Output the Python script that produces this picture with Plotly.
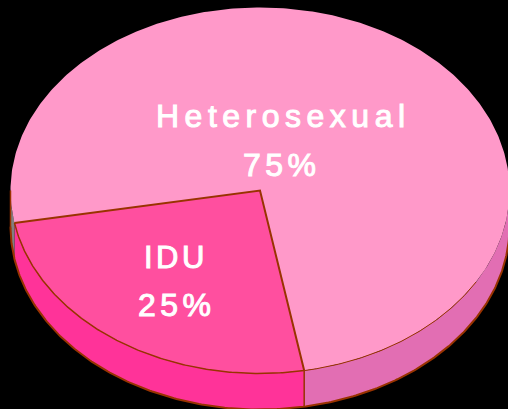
import numpy as np
import plotly.graph_objects as go

slice_names = ["IDU", "Heterosexual"]
slice_values = [25, 75]
slice_labels = ["25%", "75%"]
face_colors = ["#FF4F9F", "#FF99C9"]
side_colors = ["#FF3399", "#E26EB3"]
EDGE = "#993300"

CX, CY, RX, RY, DEPTH = 260, 190.5, 249.5, 183, 36
START_DEG = 169.8  # clockwise from top, where the IDU slice begins


def pts(a0, a1, dz=0, n=160):
    t = np.radians(np.linspace(a0, a1, n))
    return CX + RX * np.sin(t), CY - RY * np.cos(t) + dz


def ring_side(a0, a1):
    x0, y0 = pts(a0, a1)
    x1, y1 = pts(a1, a0, DEPTH)
    return np.r_[x0, x1, x0[0]], np.r_[y0, y1, y0[0]]


def poly(x, y, color):
    return go.Scatter(x=x, y=y, mode="lines", fill="toself", fillcolor=color,
                      line=dict(width=0, color=color), hoverinfo="skip", showlegend=False)


def stroke(x, y, w=1.5):
    return go.Scatter(x=x, y=y, mode="lines", line=dict(width=w, color=EDGE),
                      hoverinfo="skip", showlegend=False)


idu_span = 360 * slice_values[0] / sum(slice_values)
a_idu_end = START_DEG + idu_span
a_het_end = START_DEG + 360

fig = go.Figure()
# side walls (only the front half of the rim is visible)
fig.add_trace(poly(*ring_side(90, START_DEG), side_colors[1]))
fig.add_trace(poly(*ring_side(START_DEG, a_idu_end), side_colors[0]))
fig.add_trace(poly(*ring_side(a_idu_end, 270), "#808080"))

# top faces
hx, hy = pts(a_idu_end, a_het_end, n=400)
fig.add_trace(poly(np.r_[CX, hx, CX], np.r_[CY, hy, CY], face_colors[1]))
ix, iy = pts(START_DEG, a_idu_end, n=200)
fig.add_trace(poly(np.r_[CX, ix, CX], np.r_[CY, iy, CY], face_colors[0]))

# edges
fig.add_trace(stroke(*pts(90, 270, DEPTH, n=300), w=2))           # lower rim
fx, fy = pts(270, 270, n=2)
fig.add_trace(stroke([fx[0], fx[0]], [CY, CY + DEPTH]))           # left silhouette
fig.add_trace(stroke(*pts(120, START_DEG), w=1))                  # front of the large slice
fig.add_trace(stroke(*pts(START_DEG, a_idu_end, n=200)))          # front of IDU
fig.add_trace(stroke(np.r_[ix[0], CX, ix[-1]], np.r_[iy[0], CY, iy[-1]], w=2))
sx, sy = pts(START_DEG, START_DEG, n=2)
fig.add_trace(stroke([sx[0], sx[0]], [sy[0], sy[0] + DEPTH]))     # seam between side walls


def label(text, x, y, size, spacing):
    fig.add_annotation(x=x, y=y, xref="x", yref="y", showarrow=False,
                       xanchor="center", yanchor="middle",
                       text=f'<span style="letter-spacing:{spacing}px;stroke:white;stroke-width:1px">{text}</span>',
                       font=dict(family="Liberation Sans", size=size, color="white"))


label(slice_names[1], 283, 116, 32, 5.5)
label(slice_labels[1], 282, 165, 32, 4.5)
label(slice_names[0], 176, 257, 31, 3.5)
label(slice_labels[0], 177, 305, 32, 4.5)

fig.update_xaxes(visible=False, range=[0, 508], fixedrange=True)
fig.update_yaxes(visible=False, range=[409, 0], fixedrange=True)
fig.update_layout(width=508, height=409, margin=dict(l=0, r=0, t=0, b=0),
                  paper_bgcolor="black", plot_bgcolor="black", showlegend=False)
fig.write_html("out.html", config={"displayModeBar": False},
               post_script="document.documentElement.style.background='black';"
                           "document.body.style.margin='0';document.body.style.background='black';"
                           "document.documentElement.style.overflow='hidden';")
